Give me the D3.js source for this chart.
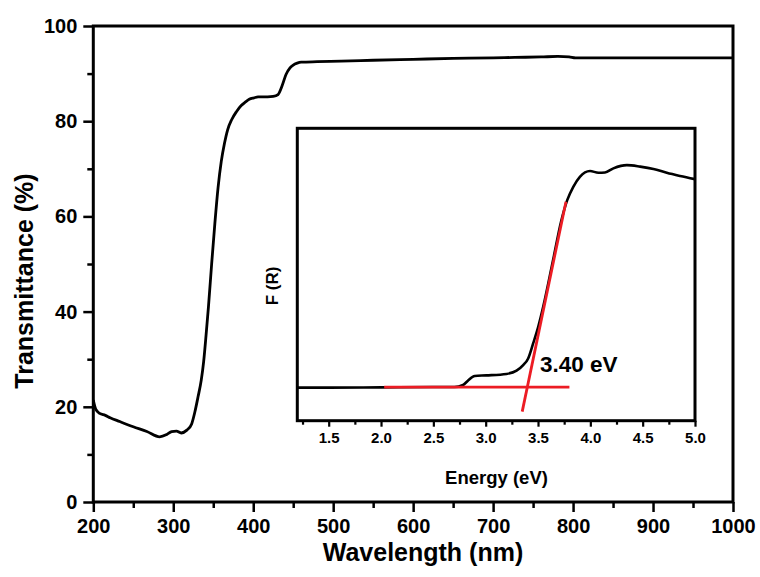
<!DOCTYPE html>
<html>
<head>
<meta charset="utf-8">
<script src="https://cdn.jsdelivr.net/npm/d3@7"></script>
<style>
  html, body { margin: 0; padding: 0; background: #fff; }
  svg { display: block; }
  text { font-family: "Liberation Sans", Arial, sans-serif; font-weight: bold; fill: #000; }
</style>
</head>
<body>
<svg id="chart" width="760" height="577"></svg>
<script>
// ---- Main spectrum: transmittance vs wavelength ----
const wavelength = [200, 203, 208, 215, 221, 233, 250, 267, 283, 292, 298, 304, 310, 317, 323, 327, 331, 335, 338, 341, 344, 348, 352, 356, 360, 364, 368, 373, 379, 385, 390, 395, 401, 406, 412, 418, 425, 431, 436, 441, 446, 450, 455, 460, 480, 510, 550, 600, 650, 700, 727, 760, 781, 795, 803, 830, 860, 890, 930, 970, 1000];
const transmittance = [21.4, 19.5, 18.6, 18.2, 17.7, 16.9, 15.8, 14.8, 13.7, 14.2, 14.8, 14.9, 14.5, 15.1, 16.4, 18.9, 22.1, 25.6, 29.5, 35, 41, 50, 58.5, 66, 71.5, 75.3, 78.2, 80.3, 82, 83.3, 84, 84.6, 84.9, 85.1, 85.1, 85.1, 85.2, 85.6, 87.4, 89.8, 91.2, 91.8, 92.2, 92.4, 92.5, 92.6, 92.8, 93.0, 93.2, 93.3, 93.4, 93.5, 93.6, 93.5, 93.3, 93.3, 93.3, 93.3, 93.3, 93.3, 93.3];
const xTicksMain = [200, 300, 400, 500, 600, 700, 800, 900, 1000];
const xMinorMain = [250, 350, 450, 550, 650, 750, 850, 950];
const yTicksMain = [0, 20, 40, 60, 80, 100];
const yMinorMain = [10, 30, 50, 70, 90];

// ---- Inset: Kubelka-Munk function vs energy ----
const energy = [1.2, 1.5, 2.0, 2.5, 2.7, 2.784, 2.83, 2.895, 3.007, 3.199, 3.295, 3.358, 3.406, 3.454, 3.502, 3.55, 3.65, 3.72, 3.78, 3.837, 3.90, 3.997, 4.077, 4.14, 4.22, 4.349, 4.476, 4.603, 4.73, 4.858, 5.0];
const fR = [0.113, 0.113, 0.114, 0.115, 0.115, 0.122, 0.137, 0.153, 0.155, 0.160, 0.171, 0.190, 0.213, 0.265, 0.321, 0.39, 0.56, 0.68, 0.755, 0.80, 0.834, 0.854, 0.848, 0.849, 0.863, 0.874, 0.869, 0.861, 0.848, 0.837, 0.826];
const tangentE = [3.349, 3.767];
const tangentF = [0.031, 0.749];
const baseE = [2.03, 3.8];
const baseF = [0.115, 0.115];
const insetTicks = [1.5, 2.0, 2.5, 3.0, 3.5, 4.0, 4.5, 5.0];
const insetMinor = [1.25, 1.75, 2.25, 2.75, 3.25, 3.75, 4.25, 4.75];
const bandGapLabel = "3.40 eV";
const bandGapPos = [3.518, 0.168];

const svg = d3.select("#chart");
const red = "#ec1c24";

// ===== main chart =====
const M = { left: 93.3, right: 733, top: 26, bottom: 502 };
const x = d3.scaleLinear().domain([200, 1000]).range([M.left, M.right]);
const y = d3.scaleLinear().domain([0, 100]).range([M.bottom, M.top]);

const gx = svg.append("g").attr("transform", `translate(0,${M.bottom})`)
  .call(d3.axisBottom(x).tickValues(xTicksMain).tickSize(10).tickSizeOuter(0).tickPadding(7).tickFormat(d3.format("d")));
const gxm = svg.append("g").attr("transform", `translate(0,${M.bottom})`)
  .call(d3.axisBottom(x).tickValues(xMinorMain).tickSize(6).tickSizeOuter(0).tickFormat(""));
const gy = svg.append("g").attr("transform", `translate(${M.left},0)`)
  .call(d3.axisLeft(y).tickValues(yTicksMain).tickSize(10).tickSizeOuter(0).tickPadding(6).tickFormat(d3.format("d")));
const gym = svg.append("g").attr("transform", `translate(${M.left},0)`)
  .call(d3.axisLeft(y).tickValues(yMinorMain).tickSize(6).tickSizeOuter(0).tickFormat(""));
[gx, gxm, gy, gym].forEach(g => {
  g.select(".domain").remove();
  g.selectAll(".tick line").attr("stroke", "#000").attr("stroke-width", 2.5);
  g.selectAll(".tick text").style("font-size", "20px").attr("font-family", null);
});

svg.append("path")
  .datum(wavelength.map((w, i) => [w, transmittance[i]]))
  .attr("fill", "none").attr("stroke", "#000").attr("stroke-width", 2.8)
  .attr("stroke-linejoin", "round")
  .attr("d", d3.line().x(d => x(d[0])).y(d => y(d[1])).curve(d3.curveMonotoneX));

svg.append("rect")
  .attr("x", M.left).attr("y", M.top)
  .attr("width", M.right - M.left).attr("height", M.bottom - M.top)
  .attr("fill", "none").attr("stroke", "#000").attr("stroke-width", 3);

svg.append("text").attr("x", 423).attr("y", 561).attr("text-anchor", "middle")
  .style("font-size", "25px").text("Wavelength (nm)");
svg.append("text").attr("transform", "translate(33,281) rotate(-90)").attr("text-anchor", "middle")
  .style("font-size", "25px").text("Transmittance (%)");

// ===== inset =====
const I = { left: 297.3, right: 695, top: 128.3, bottom: 420.7 };
const xi = d3.scaleLinear().domain([1.2, 5.0]).range([I.left, I.right]);
const yi = d3.scaleLinear().domain([0, 1]).range([I.bottom, I.top]);

svg.append("rect").attr("x", I.left).attr("y", I.top)
  .attr("width", I.right - I.left).attr("height", I.bottom - I.top).attr("fill", "#fff");

const gi = svg.append("g").attr("transform", `translate(0,${I.bottom})`)
  .call(d3.axisBottom(xi).tickValues(insetTicks).tickSize(6).tickSizeOuter(0).tickPadding(6).tickFormat(d3.format(".1f")));
const gim = svg.append("g").attr("transform", `translate(0,${I.bottom})`)
  .call(d3.axisBottom(xi).tickValues(insetMinor).tickSize(4).tickSizeOuter(0).tickFormat(""));
[gi, gim].forEach(g => {
  g.select(".domain").remove();
  g.selectAll(".tick line").attr("stroke", "#000").attr("stroke-width", 2.2);
  g.selectAll(".tick text").style("font-size", "15px").attr("font-family", null);
});

svg.append("path")
  .datum(energy.map((e, i) => [e, fR[i]]))
  .attr("fill", "none").attr("stroke", "#000").attr("stroke-width", 2.6)
  .attr("stroke-linejoin", "round")
  .attr("d", d3.line().x(d => xi(d[0])).y(d => yi(d[1])).curve(d3.curveMonotoneX));

const redLine = d3.line().x(d => xi(d[0])).y(d => yi(d[1]));
svg.append("path").datum(baseE.map((e, i) => [e, baseF[i]]))
  .attr("fill", "none").attr("stroke", red).attr("stroke-width", 2.8).attr("d", redLine);
svg.append("path").datum(tangentE.map((e, i) => [e, tangentF[i]]))
  .attr("fill", "none").attr("stroke", red).attr("stroke-width", 2.8).attr("d", redLine);

svg.append("rect").attr("x", I.left).attr("y", I.top)
  .attr("width", I.right - I.left).attr("height", I.bottom - I.top)
  .attr("fill", "none").attr("stroke", "#000").attr("stroke-width", 3);

svg.append("text").attr("x", xi(bandGapPos[0])).attr("y", yi(bandGapPos[1]))
  .style("font-size", "22.5px").text(bandGapLabel);
svg.append("text").attr("x", 496.5).attr("y", 484).attr("text-anchor", "middle")
  .style("font-size", "18.5px").text("Energy (eV)");
svg.append("text").attr("transform", "translate(277.5,286) rotate(-90)").attr("text-anchor", "middle")
  .style("font-size", "17px").text("F (R)");
</script>
</body>
</html>
